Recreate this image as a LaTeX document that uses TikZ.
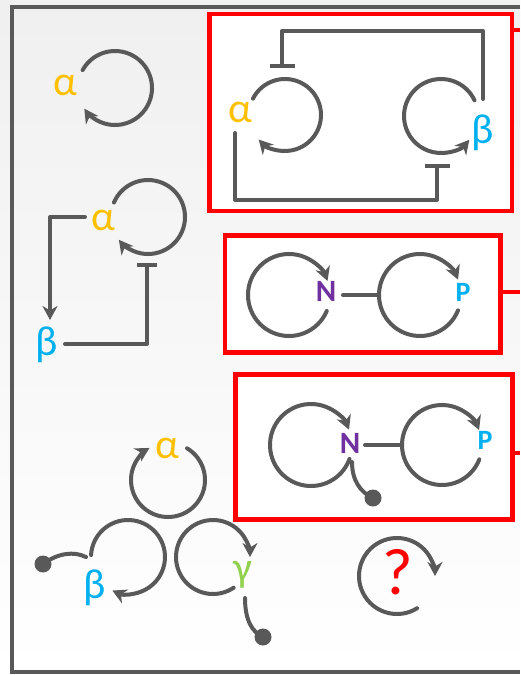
\documentclass[tikz,border=0pt]{standalone}
\usepackage{fontspec}
\setmainfont{Carlito}
\usetikzlibrary{arrows.meta}
\definecolor{wirec}{HTML}{595959}
\definecolor{alphac}{HTML}{FFC000}
\definecolor{betac}{HTML}{00B0F0}
\definecolor{gammac}{HTML}{92D050}
\definecolor{nc}{HTML}{7030A0}
\definecolor{redc}{HTML}{FF0000}
\tikzset{
  wire/.style={draw=wirec, line width=4pt, line cap=round, line join=round},
  arr/.style={-{Stealth[length=14pt,width=15pt,inset=4.5pt]}},
  tee/.style={-{Bar[width=#1,line cap=butt]}},
  redbox/.style={draw=redc, line width=4.5pt, fill=white},
  frame/.style={draw=wirec, line width=4.5pt},
  greek/.style={font=\fontsize{42}{42}\selectfont, inner sep=0pt},
  gene/.style={font=\bfseries\fontsize{31}{31}\selectfont, inner sep=0pt},
  dot/.style={circle, fill=wirec, minimum size=17pt, inner sep=0pt},
}
\begin{document}
\begin{tikzpicture}[x=1pt,y=-1pt]
\useasboundingbox (0,0) rectangle (520,675);
\shade[top color=black!6, bottom color=white] (0,0) rectangle (520,675);
\draw[frame] (520,7) -- (12,7) -- (12,672) -- (520,672);

% red boxes
\draw[redbox] (209.5,14) rectangle (512,211);
\draw[redc, line width=4pt] (512,30) -- (520,30);
\draw[redbox] (225,235.5) rectangle (500.5,352.5);
\draw[redc, line width=4pt] (500.5,292) -- (520,292);
\draw[redbox] (235.5,374.5) rectangle (512.5,519.5);
\draw[redc, line width=4pt] (512.5,453) -- (520,453);

% ---- top-left self loop
\node[greek, text=alphac] (a0) at (65,85) {α};
\coordinate (c0) at (115,88);
\draw[wire, arr] ([shift={(-151:37)}]c0) arc[start angle=-151, end angle=146, radius=37];

% ---- box 1
\node[greek, text=alphac] (a1) at (240,112) {α};
\node[greek, text=betac] (b1) at (483,133) {β};
\coordinate (ca1) at (285,115);
\coordinate (cb1) at (441,116);
\draw[wire, arr] ([shift={(-153:36)}]ca1) arc[start angle=-153, end angle=137, radius=36];
\draw[wire, arr] ([shift={(-25:37)}]cb1) arc[start angle=-25, end angle=-320, radius=37];
\coordinate (b1out) at (483,99);
\coordinate (a1in) at (282,68);
\draw[wire, tee=25pt] (b1out) -- (483,31) -- (282,31) -- (a1in);
\coordinate (a1out) at (235,133);
\coordinate (b1in) at (437,164);
\draw[wire, tee=25pt] (a1out) -- (235,200) -- (437,200) -- (b1in);

% ---- second left motif
\node[greek, text=alphac] (a2) at (103,220) {α};
\node[greek, text=betac] (b2) at (47,345) {β};
\coordinate (ca2) at (148,217);
\draw[wire, arr] ([shift={(-157:37)}]ca2) arc[start angle=-157, end angle=142, radius=37];
\coordinate (a2out) at (85,217);
\coordinate (b2in) at (50,320);
\draw[wire, arr] (a2out) -- (50,217) -- (b2in);
\coordinate (b2out) at (65,344);
\coordinate (a2in) at (147,263);
\draw[wire, tee=20pt] (b2out) -- (147,344) -- (a2in);

% ---- box 2
\coordinate (cn2) at (289,295);
\coordinate (cp2) at (420,295);
\draw[wire, arr] ([shift={(23:41)}]cn2) arc[start angle=23, end angle=340, radius=41];
\draw[wire, arr] ([shift={(22:41)}]cp2) arc[start angle=22, end angle=338, radius=41];
\node[gene, text=nc] (n2) at (326,291) {N};
\node[gene, text=betac, font=\bfseries\fontsize{28}{28}\selectfont] (p2) at (463,292) {P};
\coordinate (nr2) at (343,295);
\coordinate (pl2) at (379,295);
\draw[wire] (nr2) -- (pl2);

% ---- box 3
\coordinate (cn3) at (311,445);
\coordinate (cp3) at (442,445);
\draw[wire, arr] ([shift={(20:41)}]cn3) arc[start angle=20, end angle=338, radius=41];
\draw[wire, arr] ([shift={(21:40)}]cp3) arc[start angle=21, end angle=338, radius=40];
\node[gene, text=nc] (n3) at (350,443) {N};
\node[gene, text=betac, font=\bfseries\fontsize{28}{28}\selectfont] (p3) at (485,440) {P};
\coordinate (nr3) at (365,445);
\coordinate (pl3) at (402,445);
\draw[wire] (nr3) -- (pl3);
\node[dot] (d3) at (373,498) {};
\coordinate (n3out) at (352,462);
\draw[wire] (n3out) .. controls (352,480) and (360,492) .. (d3.center);

% ---- bottom-left motif
\node[greek, text=alphac] (a4) at (167,448) {α};
\coordinate (ca4) at (168,480);
\draw[wire, arr] ([shift={(-59:37)}]ca4) arc[start angle=-59, end angle=240, radius=37];
\node[greek, text=betac] (b4) at (95,588) {β};
\coordinate (cb4) at (128,557);
\draw[wire, arr] ([shift={(-177:37)}]cb4) arc[start angle=-177, end angle=115, radius=37];
\node[dot] (db4) at (43,564) {};
\coordinate (b4out) at (86,557);
\draw[wire] (b4out) .. controls (74,551) and (58,553) .. (db4.center);
\node[greek, text=gammac] (g4) at (243,575) {γ};
\coordinate (cg4) at (213,557);
\draw[wire, arr] ([shift={(56:37)}]cg4) arc[start angle=56, end angle=360, radius=37];
\node[dot] (dg4) at (263,637) {};
\coordinate (g4out) at (245,598);
\draw[wire] (g4out) .. controls (245,620) and (252,632) .. (dg4.center);

% ---- question loop
\node[font=\fontsize{66}{66}\selectfont, text=redc, inner sep=0pt] (q) at (398,572) {?};
\coordinate (cq) at (397,576);
\draw[wire, arr] ([shift={(58:38)}]cq) arc[start angle=58, end angle=360, radius=38];
\end{tikzpicture}
\end{document}
